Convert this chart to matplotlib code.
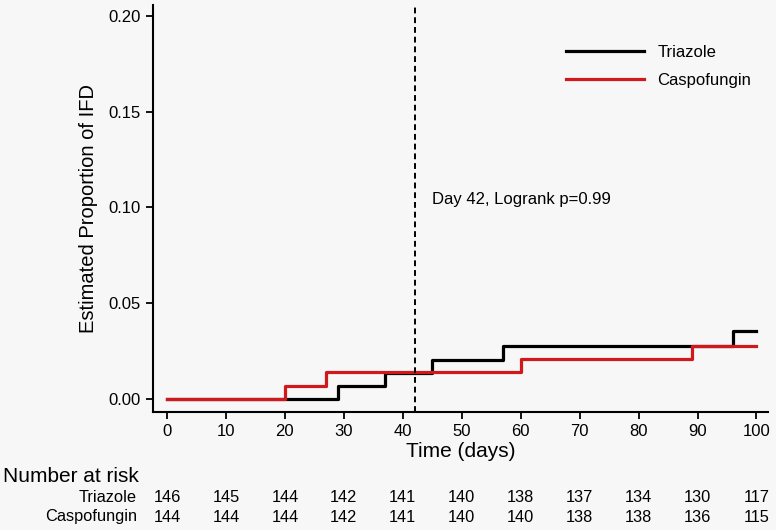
import matplotlib
matplotlib.use("Agg")
import matplotlib.pyplot as plt
import matplotlib.transforms as mtransforms

plt.rcParams['font.family'] = ['Liberation Sans', 'DejaVu Sans']

# step data (time, cumulative proportion)
tri_t = [0, 29, 37, 45, 57, 96, 100]
tri_y = [0.0, 0.0068, 0.0137, 0.0206, 0.0275, 0.0355, 0.0355]
cas_t = [0, 20, 27, 60, 89, 100]
cas_y = [0.0, 0.0069, 0.0139, 0.0209, 0.0279, 0.0279]

risk_times = [0, 10, 20, 30, 40, 50, 60, 70, 80, 90, 100]
risk_tri = [146, 145, 144, 142, 141, 140, 138, 137, 134, 130, 117]
risk_cas = [144, 144, 144, 142, 141, 140, 140, 138, 138, 136, 115]

bg = '#f7f7f7'
fig = plt.figure(figsize=(7.76, 5.30), dpi=100, facecolor=bg)
ax = fig.add_axes([0.197, 0.2226, 0.793, 0.768], facecolor=bg)

ax.step(tri_t, tri_y, where='post', color='black', lw=2.3, label='Triazole')
ax.step(cas_t, cas_y, where='post', color='#d0191c', lw=2.3, label='Caspofungin')
ax.axvline(42, color='black', lw=1.4, ls=(0, (3, 2)))
ax.text(45, 0.104, 'Day 42, Logrank p=0.99', fontsize=12, va='center')

ax.set_xlim(-2.4, 102)
ax.set_ylim(-0.0068, 0.2057)
ax.set_xticks(risk_times)
ax.set_yticks([0.0, 0.05, 0.10, 0.15, 0.20])
ax.set_yticklabels(['0.00', '0.05', '0.10', '0.15', '0.20'])
for s in ['top', 'right']:
    ax.spines[s].set_visible(False)
for s in ['left', 'bottom']:
    ax.spines[s].set_linewidth(1.5)
ax.tick_params(width=1.3, length=5, labelsize=12)
ax.set_ylabel('Estimated Proportion of IFD', fontsize=14.5, labelpad=8)
ax.set_xlabel('Time (days)', fontsize=15, labelpad=2)

ax.legend(loc='upper left', bbox_to_anchor=(566 / 776, 1 - 45 / 530),
          bbox_transform=fig.transFigure, frameon=False, borderpad=0,
          borderaxespad=0, fontsize=12, handlelength=4.7,
          handletextpad=0.78, labelspacing=0.77)

# number at risk table
trans = mtransforms.blended_transform_factory(ax.transData, fig.transFigure)
fig.text(3 / 776, 1 - 477 / 530, 'Number at risk', fontsize=15, va='center')
for label, vals, yp in [('Triazole', risk_tri, 498), ('Caspofungin', risk_cas, 517)]:
    fig.text(137 / 776, 1 - yp / 530, label, fontsize=11.8, ha='right', va='center')
    for t, v in zip(risk_times, vals):
        ax.text(t, 1 - yp / 530, str(v), transform=trans, fontsize=11.8,
                ha='center', va='center', clip_on=False)

fig.savefig('out.png', dpi=100, facecolor=bg)
